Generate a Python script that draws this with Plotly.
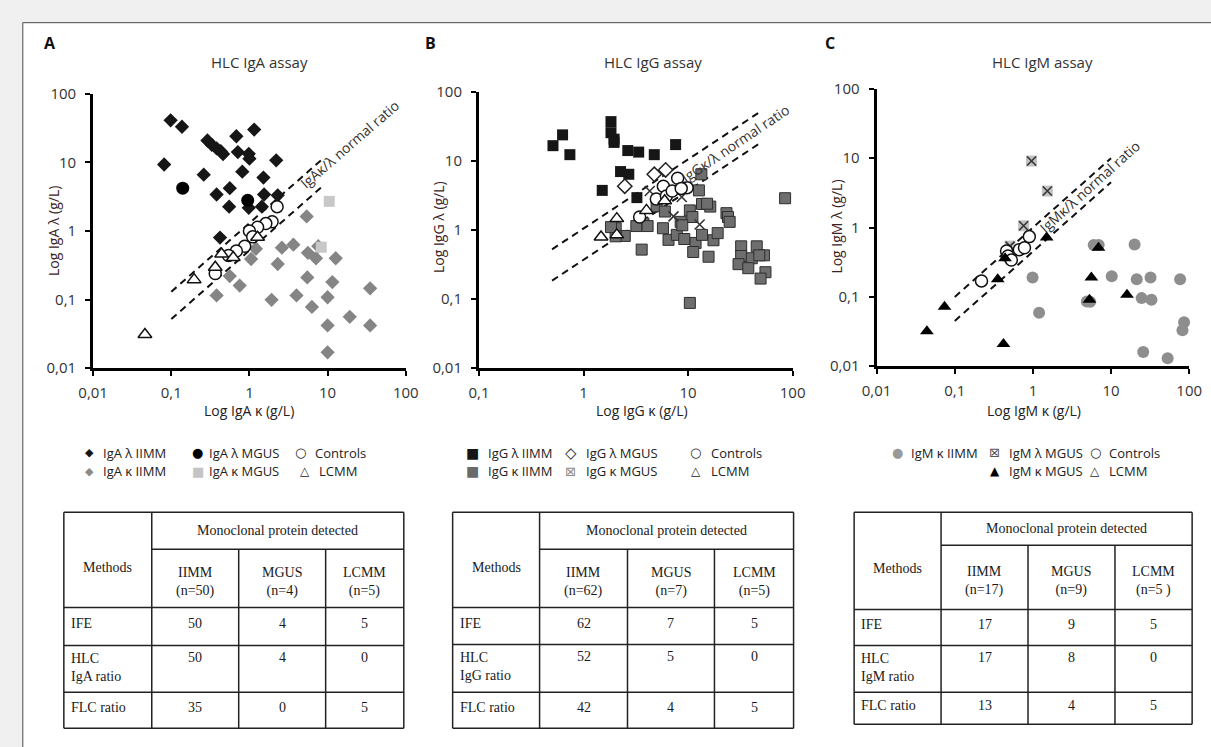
import plotly.graph_objects as go

W, H = 1211, 747
def PX(x): return x / W
def PY(y): return 1 - y / H

# ---------------- DATA ----------------
# Panel A (IgA)
igaL_iimm_k = [0.098, 0.137, 1.15, 0.68, 0.29, 0.33, 0.38, 0.43, 0.46, 0.71, 0.98, 1.0, 2.2, 0.081, 0.81,
               0.26, 1.51, 0.38, 0.56, 1.54, 2.3, 0.55, 0.98, 1.44, 0.42]
igaL_iimm_l = [41, 33, 30, 24, 20.8, 18, 16, 14.5, 13.2, 14.1, 13.3, 11.3, 10.7, 9.3, 7.3,
               6.6, 6.0, 3.4, 4.2, 3.4, 3.3, 2.26, 2.17, 2.26, 0.8]
igaK_iimm_k = [5.4, 2.6, 3.65, 5.6, 7.1, 12.7, 1.21, 1.05, 2.3, 5.5, 11.5, 0.56, 0.75, 0.38, 1.92, 4.0,
               6.3, 10, 19.2, 10, 35, 35, 10, 7.6]
igaK_iimm_l = [1.63, 0.57, 0.63, 0.48, 0.40, 0.40, 0.55, 0.39, 0.33, 0.21, 0.18, 0.22, 0.16, 0.115, 0.099, 0.115,
               0.078, 0.108, 0.056, 0.042, 0.042, 0.146, 0.017, 0.6]
igaL_mgus_k = [0.14, 0.95]
igaL_mgus_l = [4.2, 2.8]
igaK_mgus_k = [10.5, 8.3]
igaK_mgus_l = [2.7, 0.58]
igaCtrl_k = [2.26, 1.95, 1.62, 1.27, 1.0, 1.1, 0.87, 0.68, 0.54, 0.365]
igaCtrl_l = [2.26, 1.36, 1.28, 1.13, 1.0, 0.82, 0.6, 0.51, 0.44, 0.24]
igaLcmm_k = [0.046, 0.196, 0.365, 0.44, 0.62, 1.27]
igaLcmm_l = [0.031, 0.195, 0.295, 0.46, 0.41, 0.81]
igaRatio = [1.3, 0.52]          # lambda/kappa bounds of the normal range lines
igaRatioX = [0.1, 9]

# Panel B (IgG)
iggL_iimm_k = [0.51, 0.63, 0.74, 1.83, 1.83, 1.96, 1.96, 2.65, 3.37, 4.75, 7.6, 2.26, 2.71, 1.51, 3.24]
iggL_iimm_l = [16.6, 23.8, 12.3, 37, 25.6, 20.6, 18.5, 14.1, 13.4, 12.3, 17.2, 7.0, 6.4, 3.74, 2.94]
iggK_iimm_k = [13.4, 12.7, 10.4, 13.6, 16.3, 23.3, 24.1, 25, 84.8, 11, 8.5, 5.75, 3.74, 3.2, 2.48,
               2.03, 2.03, 6.5, 7.8, 9.2, 11.8, 13.6, 17.5, 19.2, 11.2, 15.7, 3.6, 32.2, 45.4, 32.2,
               40.7, 53.2, 48, 30.4, 37.7, 55, 49.4, 10.4, 1.83, 4.1, 5.0, 6.0, 15.2, 8.8]
iggK_iimm_l = [6.4, 3.74, 1.92, 2.38, 2.18, 1.75, 1.54, 1.31, 2.88, 1.54, 1.31, 1.06, 1.24, 1.14, 0.82,
               1.06, 0.81, 0.72, 0.85, 0.74, 0.65, 0.85, 0.71, 0.90, 0.48, 0.41, 0.52, 0.58, 0.58, 0.42,
               0.39, 0.43, 0.43, 0.32, 0.28, 0.245, 0.198, 0.088, 1.1, 1.14, 2.2, 1.85, 2.4, 1.17]
iggL_mgus_k = [2.48, 4.75, 6.1]
iggL_mgus_l = [4.3, 6.4, 7.4]
iggK_mgus_k = [4.3, 7.25, 12.9, 8.7]
iggK_mgus_l = [3.66, 1.57, 1.2, 3.0]
iggCtrl_k = [3.44, 4.97, 5.8, 6.2, 7.05, 7.95, 9.8, 8.6]
iggCtrl_l = [1.54, 2.8, 4.3, 3.1, 3.66, 5.6, 4.1, 4.0]
iggLcmm_k = [1.47, 2.08, 2.08, 4.0, 5.97]
iggLcmm_l = [0.79, 1.46, 0.85, 1.92, 2.65]
iggRatio = [1.05, 0.37]
iggRatioX = [0.5, 51]

# Panel C (IgM)
igmK_iimm_k = [6.95, 6.0, 20, 0.99, 10.2, 21.3, 32, 76.5, 24.6, 32.9, 4.9, 1.2, 86, 82, 25.8, 53, 5.4]
igmK_iimm_l = [0.56, 0.56, 0.57, 0.19, 0.198, 0.18, 0.19, 0.18, 0.096, 0.091, 0.086, 0.059, 0.043, 0.033,
               0.016, 0.013, 0.085]
igmL_mgus_k = [0.96, 1.53, 0.76, 0.51]
igmL_mgus_l = [9.1, 3.36, 1.06, 0.54]
igmK_mgus_k = [0.044, 0.074, 0.42, 0.355, 0.44, 1.5, 6.9, 5.6, 5.3, 16]
igmK_mgus_l = [0.032, 0.072, 0.021, 0.18, 0.36, 0.72, 0.51, 0.19, 0.091, 0.107]
igmCtrl_k = [0.22, 0.46, 0.48, 0.53, 0.67, 0.78, 0.9]
igmCtrl_l = [0.17, 0.46, 0.39, 0.34, 0.48, 0.51, 0.74]
igmRatio = [1.0, 0.45]
igmRatioX = [0.1, 10]

tick_vals_4 = [0.01, 0.1, 1, 10, 100]
tick_text_4 = ['0,01', '0,1', '1', '10', '100']
tick_vals_3 = [0.1, 1, 10, 100]
tick_text_3 = ['0,1', '1', '10', '100']

# Tables
groups = ['IIMM', 'MGUS', 'LCMM']
tblA_n = ['(n=50)', '(n=4)', '(n=5)']
tblB_n = ['(n=62)', '(n=7)', '(n=5)']
tblC_n = ['(n=17)', '(n=9)', '(n=5 )']
tblA_methods = ['IFE', 'HLC<br>IgA ratio', 'FLC ratio']
tblB_methods = ['IFE', 'HLC<br>IgG ratio', 'FLC ratio']
tblC_methods = ['IFE', 'HLC<br>IgM ratio', 'FLC ratio']
tblA_vals = [[50, 4, 5], [50, 4, 0], [35, 0, 5]]
tblB_vals = [[62, 7, 5], [52, 5, 0], [42, 4, 5]]
tblC_vals = [[17, 9, 5], [17, 8, 0], [13, 4, 5]]

# ---------------- FIGURE ----------------
fig = go.Figure()

def sc(k, l, ax, symbol, size, color, lcolor=None, lwidth=0):
    fig.add_trace(go.Scatter(
        x=k, y=l, mode='markers', xaxis='x' + ax, yaxis='y' + ax, showlegend=False,
        cliponaxis=False, hoverinfo='skip',
        marker=dict(symbol=symbol, size=size, color=color,
                    line=dict(color=lcolor if lcolor else color, width=lwidth))))

def ratio_lines(xr, ratios, ax):
    for r in ratios:
        fig.add_trace(go.Scatter(
            x=xr, y=[v * r for v in xr], mode='lines', xaxis='x' + ax, yaxis='y' + ax,
            showlegend=False, hoverinfo='skip',
            line=dict(color='#111111', width=2, dash='7px,5px')))

BLACK = '#161616'
GREY = '#858585'

# Panel A
ratio_lines(igaRatioX, igaRatio, '')
sc(igaL_iimm_k, igaL_iimm_l, '', 'diamond', 11, BLACK)
sc(igaK_iimm_k, igaK_iimm_l, '', 'diamond', 11, GREY)
sc(igaL_mgus_k, igaL_mgus_l, '', 'circle', 13, '#000000')
sc(igaK_mgus_k, igaK_mgus_l, '', 'square', 11, '#c8c8c8')
sc(igaCtrl_k, igaCtrl_l, '', 'circle', 12, 'white', '#111111', 1.5)
sc(igaLcmm_k, igaLcmm_l, '', 'triangle-up', 12, 'white', '#111111', 1.5)

# Panel B
ratio_lines(iggRatioX, iggRatio, '2')
sc(iggL_iimm_k, iggL_iimm_l, '2', 'square', 11, BLACK)
sc(iggK_iimm_k, iggK_iimm_l, '2', 'square', 11, '#6e6e6e', '#2e2e2e', 1)
sc(iggL_mgus_k, iggL_mgus_l, '2', 'diamond', 11, 'white', '#222222', 1.5)
sc(iggK_mgus_k, iggK_mgus_l, '2', 'x-thin-open', 10, '#333333', '#333333', 1.6)
sc(iggCtrl_k, iggCtrl_l, '2', 'circle', 12, 'white', '#111111', 1.5)
sc(iggLcmm_k, iggLcmm_l, '2', 'triangle-up', 12, 'white', '#111111', 1.5)

# Panel C
ratio_lines(igmRatioX, igmRatio, '3')
sc(igmK_iimm_k, igmK_iimm_l, '3', 'circle', 12, '#8e8e8e')
sc(igmL_mgus_k, igmL_mgus_l, '3', 'square', 11, '#c2c2c2')
sc(igmL_mgus_k, igmL_mgus_l, '3', 'x-thin-open', 9, '#333333', '#333333', 1.6)
sc(igmCtrl_k, igmCtrl_l, '3', 'circle', 12, 'white', '#111111', 1.5)
sc(igmK_mgus_k, igmK_mgus_l, '3', 'triangle-up', 12, '#000000')

FONT = 'Open Sans'
axis_common = dict(type='log', showgrid=False, zeroline=False, showline=True, linewidth=3,
                   linecolor='black', ticks='outside', ticklen=5, tickwidth=2, tickcolor='black',
                   tickfont=dict(family=FONT, size=15, color='#333333'), fixedrange=True)

def xaxis(dom, rng, vals, text, anchor):
    d = dict(axis_common)
    d.update(domain=[PX(dom[0]), PX(dom[1])], range=rng, tickvals=vals, ticktext=text,
             anchor=anchor, ticklabelstandoff=4)
    return d

def yaxis(dom, anchor):
    d = dict(axis_common)
    d.update(domain=[PY(dom[1]), PY(dom[0])], range=[-2, 2], tickvals=tick_vals_4,
             ticktext=tick_text_4, anchor=anchor, ticklabelstandoff=6)
    return d

fig.update_layout(
    width=W, height=H, autosize=False,
    margin=dict(l=0, r=0, t=0, b=0),
    paper_bgcolor='#f0f0f0', plot_bgcolor='rgba(0,0,0,0)',
    showlegend=False,
    xaxis=xaxis((80, 400), [-2, 2], tick_vals_4, tick_text_4, 'y'),
    yaxis=yaxis((85, 367), 'x'),
    xaxis2=xaxis((475, 796), [-1, 2], tick_vals_3, tick_text_3, 'y2'),
    yaxis2=yaxis((83, 367), 'x2'),
    xaxis3=xaxis((882, 1202), [-2, 2], tick_vals_4, tick_text_4, 'y3'),
    yaxis3=yaxis((80, 365), 'x3'),
)

shapes = []
annotations = []

# white panel with border
shapes.append(dict(type='rect', xref='paper', yref='paper', x0=PX(8), x1=PX(1230), y0=PY(770), y1=PY(12),
                   fillcolor='white', line=dict(color='#4a4a4a', width=1), layer='below'))

def text(x, y, s, size=14, color='#222222', family=FONT, angle=0, xanchor='center', yanchor='middle',
         bold=False, align='center'):
    if bold:
        s = '<b>' + s + '</b>'
    annotations.append(dict(x=PX(x), y=PY(y), xref='paper', yref='paper', text=s, showarrow=False,
                            font=dict(family=family, size=size, color=color), textangle=angle,
                            xanchor=xanchor, yanchor=yanchor, align=align))

# panel letters and titles
for lx, letter in [(36, 'A'), (425, 'B'), (834, 'C')]:
    text(lx, 33, letter, size=16, color='#111111', bold=True)
for cx, t in [(250, 'HLC IgA assay'), (653, 'HLC IgG assay'), (1052, 'HLC IgM assay')]:
    text(cx, 52, t, size=15, color='#333333')

# axis titles
text(240, 411, 'Log IgA κ (g/L)', size=14)
text(642, 410, 'Log IgG κ (g/L)', size=14)
text(1043, 410, 'Log IgM κ (g/L)', size=14)
text(40, 226, 'Log IgA λ (g/L)', size=14, color='#3b2323', angle=-90)
text(433, 222, 'Log IgG λ (g/L)', size=14, color='#3b2323', angle=-90)
text(841, 222, 'Log IgM λ (g/L)', size=14, color='#3b2323', angle=-90)

# ratio labels
text(342, 137, 'IgAκ/λ normal ratio', size=14, color='#333333', angle=-41)
text(737, 136, 'IgGκ/λ normal ratio', size=14, color='#333333', angle=-34)
text(1100, 180, 'IgMκ/λ normal ratio', size=14, color='#333333', angle=-42)

# legends (glyph + label)
def leg(gx, tx, y, glyph, gcolor, gsize, label):
    text(gx, y, glyph, size=gsize, color=gcolor, family='DejaVu Sans')
    text(tx, y, label, size=13, color='#222222', xanchor='left')

R1, R2 = 454, 473
leg(76, 88, R1, '◆', BLACK, 11, 'IgA λ IIMM')
leg(187, 197, R1, '●', '#000000', 13, 'IgA λ MGUS')
leg(292, 305, R1, '○', '#222222', 13, 'Controls')
leg(76, 88, R2, '◆', '#8a8a8a', 11, 'IgA κ IIMM')
leg(187, 197, R2, '■', '#c4c4c4', 13, 'IgA κ MGUS')
leg(297, 309, R2, '△', '#222222', 12, 'LCMM')

leg(468, 482, R1, '■', BLACK, 14, 'IgG λ IIMM')
leg(569, 582, R1, '◇', '#222222', 15, 'IgG λ MGUS')
leg(697, 710, R1, '○', '#222222', 13, 'Controls')
leg(468, 482, R2, '■', '#6a6a6a', 14, 'IgG κ IIMM')
leg(569, 582, R2, '⊠', '#8a8a8a', 13, 'IgG κ MGUS')
leg(697, 710, R2, '△', '#222222', 12, 'LCMM')

leg(903, 915, R1, '●', '#999999', 13, 'IgM κ IIMM')
leg(1003, 1015, R1, '⊠', '#555555', 13, 'IgM λ MGUS')
leg(1106, 1118, R1, '○', '#222222', 13, 'Controls')
leg(1003, 1015, R2, '▲', '#000000', 12, 'IgM κ MGUS')
leg(1106, 1118, R2, '△', '#222222', 12, 'LCMM')

# tables
def table(xs, ys, ns, methods, vals):
    L, c1, c2, c3, R = xs
    top, hs, r1, r2, r3, bot = ys
    lc = dict(color='#222222', width=1.5)
    def line(x0, y0, x1, y1):
        shapes.append(dict(type='line', xref='paper', yref='paper', x0=PX(x0), y0=PY(y0),
                           x1=PX(x1), y1=PY(y1), line=lc))
    for y in [top, r1, r2, r3, bot]:
        line(L, y, R, y)
    line(c1, hs, R, hs)
    for x in [L, c1, R]:
        line(x, top, x, bot)
    for x in [c2, c3]:
        line(x, hs, x, bot)
    serif = 'Liberation Serif'
    text((c1 + R) / 2, (top + hs) / 2, 'Monoclonal protein detected', size=14, family=serif, color='#1a1a1a')
    text((L + c1) / 2, (top + r1) / 2 + 8, 'Methods', size=14, family=serif, color='#1a1a1a')
    cols = [c1, c2, c3, R]
    for i in range(3):
        cx = (cols[i] + cols[i + 1]) / 2
        text(cx, (hs + r1) / 2 + 4, groups[i] + '<br>' + ns[i], size=14, family=serif, color='#1a1a1a')
    rows = [(r1, r2), (r2, r3), (r3, bot)]
    for j, (ya, yb) in enumerate(rows):
        if '<br>' in methods[j]:
            text(L + 5, ya + 4, methods[j], size=14, family=serif, color='#1a1a1a',
                 xanchor='left', yanchor='top', align='left')
            vy = ya + 12
        else:
            text(L + 5, (ya + yb) / 2 - 3, methods[j], size=14, family=serif, color='#1a1a1a',
                 xanchor='left')
            vy = (ya + yb) / 2 - 3
        for i in range(3):
            cx = (cols[i] + cols[i + 1]) / 2
            text(cx, vy, str(vals[j][i]), size=14, family=serif, color='#1a1a1a')

table([50, 140, 229, 318, 398], [515, 553, 613, 652, 700, 737], tblA_n, tblA_methods, tblA_vals)
table([448, 537, 627, 716, 797], [515, 553, 613, 651, 700, 737], tblB_n, tblB_methods, tblB_vals)
table([859, 948, 1037, 1126, 1205], [515, 549, 615, 652, 700, 733], tblC_n, tblC_methods, tblC_vals)

fig.update_layout(shapes=shapes, annotations=annotations)
fig.write_html('out.html')
